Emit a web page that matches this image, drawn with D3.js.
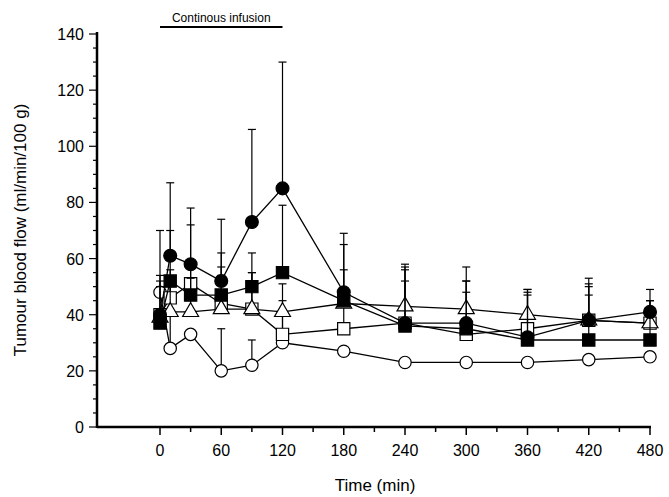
<!DOCTYPE html>
<html><head><meta charset="utf-8">
<script src="https://cdn.jsdelivr.net/npm/d3@7"></script>
<style>body{margin:0;background:#fff}text{font-family:"Liberation Sans",Arial,sans-serif}</style>
</head><body><svg id="c" width="669" height="497"></svg>
<script>
// Time points (min)
const times = [0, 10, 30, 60, 90, 120, 180, 240, 300, 360, 420, 480];
const xTicks = [0, 60, 120, 180, 240, 300, 360, 420, 480];
const yTicks = [0, 20, 40, 60, 80, 100, 120, 140];

// mean values and upper error-bar ends, per group
const filledCircle = [40, 61, 58, 52, 73, 85, 48, 37, 37, 32, 38, 41];
const filledCircleErr = [40, 87, 78, 74, 106, 130, 69, 57, 52, 48, 53, 49];
const filledSquare = [37, 52, 47, 47, 50, 55, 45, 36, 35, 31, 31, 31];
const filledSquareErr = [70, 70, 72, 62, 62, 79, 65, 56, 52, 49, 50, 45];
const openSquare = [40, 46, 51, 44, 42, 33, 35, 37, 33, 35, 38, 37];
const openSquareErr = [54, 56, 59, 57, 55, 45, 48, 52, 48, 47, 47, 40];
const openTriangle = [39, 41, 41, 42, 42, 41, 44, 43, 42, 40, 38, 37];
const openTriangleErr = [50, 53, 53, 54, 55, 51, 56, 58, 57, 49, 51, 45];
const openCircle = [48, 28, 33, 20, 22, 30, 27, 23, 23, 23, 24, 25];
const openCircleErr = [52, 50, 33, 35, 31, 40, 27, 23, 23, 23, 24, 25];

const svg = d3.select("#c");
const x = d3.scaleLinear().domain([0, 480]).range([160, 650]);
const y = d3.scaleLinear().domain([0, 140]).range([427, 34]);

// axes
const xAxis = svg.append("g").attr("transform", "translate(0,427)");
xAxis.append("line").attr("x1", 97).attr("x2", 651).attr("stroke", "#000").attr("stroke-width", 2.5);
d3.range(0, 481, 30).forEach(t => {
  xAxis.append("line").attr("x1", x(t)).attr("x2", x(t)).attr("y1", 0).attr("y2", t % 60 ? 5 : 8).attr("stroke", "#000").attr("stroke-width", 1.5);
});
xTicks.forEach(t => xAxis.append("text").attr("x", x(t)).attr("y", 29).attr("text-anchor", "middle").attr("font-size", 16).text(t));
svg.append("text").attr("x", 375).attr("y", 491).attr("text-anchor", "middle").attr("font-size", 17).text("Time (min)");

const yAxis = svg.append("g");
yAxis.append("line").attr("x1", 97).attr("x2", 97).attr("y1", y(140) - 2).attr("y2", 428).attr("stroke", "#000").attr("stroke-width", 2.5);
d3.range(0, 141, 5).forEach(v => {
  yAxis.append("line").attr("x1", 97).attr("x2", v % 20 ? 93 : 89).attr("y1", y(v)).attr("y2", y(v)).attr("stroke", "#000").attr("stroke-width", 1.2);
});
yTicks.forEach(v => yAxis.append("text").attr("x", 84).attr("y", y(v) + 6).attr("text-anchor", "end").attr("font-size", 16).text(v));
svg.append("text").attr("transform", "translate(26,230) rotate(-90)").attr("text-anchor", "middle").attr("font-size", 17).text("Tumour blood flow (ml/min/100 g)");

// infusion bar
svg.append("line").attr("x1", x(0)).attr("x2", x(120)).attr("y1", 27).attr("y2", 27).attr("stroke", "#000").attr("stroke-width", 2);
svg.append("text").attr("x", x(60)).attr("y", 22).attr("text-anchor", "middle").attr("font-size", 12).text("Continous infusion");

const groups = [
  { vals: openCircle, err: openCircleErr, shape: d3.symbolCircle, fill: "#fff", size: 120 },
  { vals: openSquare, err: openSquareErr, shape: d3.symbolSquare, fill: "#fff", size: 150 },
  { vals: openTriangle, err: openTriangleErr, shape: d3.symbolTriangle, fill: "#fff", size: 110 },
  { vals: filledSquare, err: filledSquareErr, shape: d3.symbolSquare, fill: "#000", size: 150 },
  { vals: filledCircle, err: filledCircleErr, shape: d3.symbolCircle, fill: "#000", size: 130 }
];
const line = d3.line().x((d, i) => x(times[i])).y(d => y(d));

groups.forEach(g => {
  const gg = svg.append("g");
  g.err.forEach((e, i) => {
    if (e <= g.vals[i]) return;
    gg.append("line").attr("x1", x(times[i])).attr("x2", x(times[i])).attr("y1", y(g.vals[i])).attr("y2", y(e)).attr("stroke", "#000").attr("stroke-width", 1.2);
    gg.append("line").attr("x1", x(times[i]) - 4).attr("x2", x(times[i]) + 4).attr("y1", y(e)).attr("y2", y(e)).attr("stroke", "#000").attr("stroke-width", 1.2);
  });
  gg.append("path").attr("d", line(g.vals)).attr("fill", "none").attr("stroke", "#000").attr("stroke-width", 1.3);
  gg.selectAll("path.pt").data(g.vals).join("path").attr("class", "pt")
    .attr("transform", (d, i) => `translate(${x(times[i])},${y(d)})`)
    .attr("d", d3.symbol().type(g.shape).size(g.size))
    .attr("fill", g.fill).attr("stroke", "#000").attr("stroke-width", 1.2);
});
</script></body></html>
